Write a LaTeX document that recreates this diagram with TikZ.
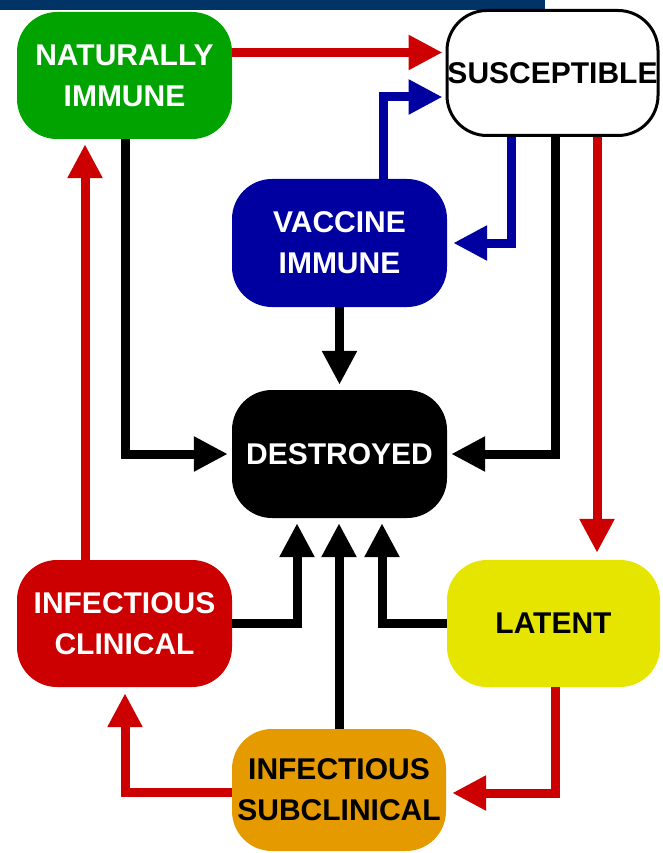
\documentclass[tikz,border=0pt]{standalone}
\usepackage{fontspec}
\setmainfont{Liberation Sans}
\usetikzlibrary{arrows.meta}
\definecolor{barblue}{HTML}{003366}
\definecolor{cgreen}{HTML}{00A300}
\definecolor{cblue}{HTML}{0000A0}
\definecolor{cred}{HTML}{CC0000}
\definecolor{cyellow}{HTML}{E5E500}
\definecolor{corange}{HTML}{E59A00}
\tikzset{
  box/.style={rectangle, rounded corners=40pt, minimum width=215pt, minimum height=127pt,
    align=center, inner sep=0pt, font=\fontsize{30}{41}\selectfont\bfseries},
  conn/.style={line width=9pt, -{Triangle[length=34pt,width=33pt]}},
}
\begin{document}
\begin{tikzpicture}[x=1pt,y=-1pt]
\useasboundingbox (0,0) rectangle (662,853);
\fill[barblue] (0,0) rectangle (545,10);
% nodes
\node[box, fill=cgreen, text=white] (nat) at (124.5,75.5) {NATURALLY\\IMMUNE};
\node[box, fill=white, draw=black, line width=3pt, minimum width=211pt, minimum height=125pt, text=black] (sus) at (552.5,73) {SUSCEPTIBLE};
\node[box, fill=cblue, text=white, minimum height=128pt] (vac) at (339.5,243) {VACCINE\\IMMUNE};
\node[box, fill=black, text=white, minimum height=128pt] (des) at (339.5,454) {DESTROYED};
\node[box, fill=cred, text=white] (cli) at (124.5,623.5) {INFECTIOUS\\CLINICAL};
\node[box, fill=cyellow, text=black, minimum width=213pt] (lat) at (553.5,623.5) {LATENT};
\node[box, fill=corange, text=black, minimum width=214pt, minimum height=122pt] (sub) at (339,790) {INFECTIOUS\\SUBCLINICAL};
% connectors
\draw[conn, cred, shorten >=3pt] ([yshift=23pt]nat.east) -- ([yshift=23pt]nat.east -| sus.west);
\draw[conn, cblue, shorten >=3pt] ([xshift=43.5pt]vac.north) |- ([yshift=-24pt]sus.west);
\draw[conn, cblue, shorten >=6pt] ([xshift=-41.5pt]sus.south) |- (vac.east);
\draw[conn, black, shorten >=4pt] ([xshift=2.5pt]sus.south) |- (des.east);
\draw[conn, cred, shorten >=7pt] ([xshift=44.5pt]sus.south) -- ([xshift=44.5pt]sus.south |- lat.north);
\draw[conn, black, shorten >=4pt] ([xshift=0.5pt]nat.south) |- (des.west);
\draw[conn, black, shorten >=5pt] (vac.south) -- (des.north);
\draw[conn, cred, shorten >=5pt] ([xshift=-39.5pt]cli.north) -- ([xshift=-39.5pt]cli.north |- nat.south);
\draw[conn, black, shorten >=5pt] (cli.east) -| ([xshift=-42.5pt]des.south);
\draw[conn, black, shorten >=5pt] (sub.north) -- (sub.north |- des.south);
\draw[conn, black, shorten >=5pt] (lat.west) -| ([xshift=42.5pt]des.south);
\draw[conn, cred, shorten >=6pt] ([xshift=1.5pt]lat.south) |- ([yshift=-3pt]sub.east);
\draw[conn, cred, shorten >=6pt] ([yshift=-2pt]sub.west) -| ([xshift=0.5pt]cli.south);
\end{tikzpicture}
\end{document}
